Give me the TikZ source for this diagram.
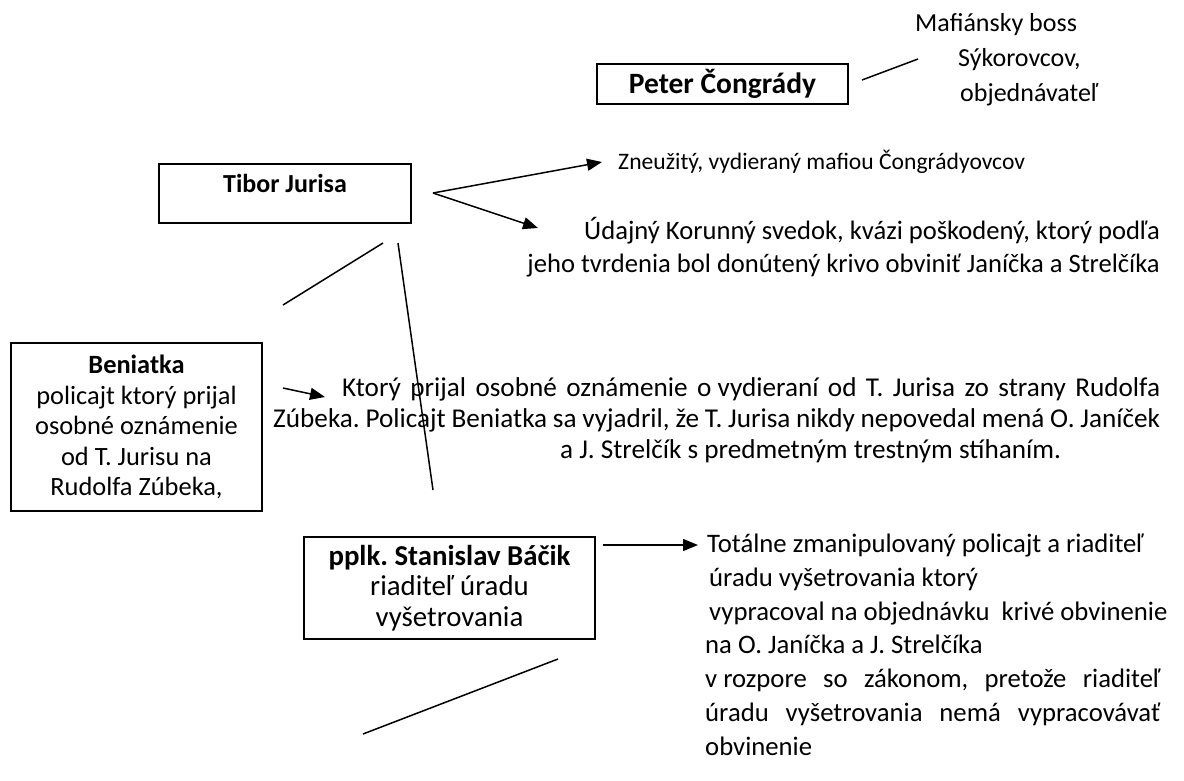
\documentclass[tikz,border=0pt]{standalone}
\usepackage{fontspec}
\setmainfont{Carlito}
\usepackage{tikz}
\usetikzlibrary{positioning}
\usetikzlibrary{calc}
\usetikzlibrary{arrows.meta}
\frenchspacing

\begin{document}
\begin{tikzpicture}[x=1pt, y=-1pt,
	box/.style = {draw, line width=2pt, inner sep=0pt, align=center},
	txt/.style = {inner sep=0pt},
	arr/.style = {-{Triangle[length=15pt,width=12pt]}, line width=1.5pt},
	ln/.style = {line width=1.5pt}]
	\useasboundingbox (0,0) rectangle (1184,780);

	% osoby
	\node[box, minimum width=251, minimum height=40, font=\fontsize{29.5}{34}\selectfont] (congrady) at (722.5,84) {\textbf{Peter Čongrády}};
	\node[box, minimum width=252, text height=28pt, text depth=31pt, anchor=north, font=\fontsize{26}{31}\selectfont] (jurisa) at (285,163) {\textbf{Tibor Jurisa}};
	\node[box, minimum width=251, minimum height=168, font=\fontsize{26.4}{30.5}\selectfont] (beniatka) at (136.5,427)
		{\textbf{Beniatka}\\ policajt ktorý prijal\\ osobné oznámenie\\ od T. Jurisu na\\ Rudolfa Zúbeka,};
	\node[box, minimum width=291, minimum height=102, font=\fontsize{28.8}{30.5}\selectfont] (bacik) at (449.5,588)
		{\textbf{pplk. Stanislav Báčik}\\ riaditeľ úradu\\ vyšetrovania};

	% popisy
	\node[txt, align=left, anchor=base west, font=\fontsize{26}{35}\selectfont] (mafia) at (915,101)
		{Mafiánsky boss\\ \hspace{43pt}Sýkorovcov,\\ \hspace{45pt}objednávateľ};
	\node[txt, anchor=base west, font=\fontsize{23.6}{30}\selectfont] (zneuzity) at (618,169) {Zneužitý, vydieraný mafiou Čongrádyovcov};
	\node[txt, align=right, anchor=base east, font=\fontsize{26.6}{33}\selectfont] (svedok) at (1160,272)
		{Údajný Korunný svedok, kvázi poškodený, ktorý podľa\\ jeho tvrdenia bol donútený krivo obviniť Janíčka a Strelčíka};
	\node[txt, align=left, anchor=base west, font=\fontsize{27.2}{31}\selectfont] (oznamenie) at (273,458)
		{\hspace{69pt}\makebox[818pt][s]{Ktorý prijal osobné oznámenie \mbox{o vydieraní} od T. Jurisa zo strany Rudolfa}\\
		\makebox[887pt][s]{Zúbeka. Policajt Beniatka sa vyjadril, že T. Jurisa nikdy nepovedal mená O. Janíček}\\
		\hspace{287pt}a J. Strelčík s predmetným trestným stíhaním.};
	\node[txt, align=left, anchor=base west, font=\fontsize{26.7}{33.7}\selectfont] (totalne) at (705,755)
		{\hspace{2pt}Totálne zmanipulovaný policajt a riaditeľ\\
		\hspace{4pt}úradu vyšetrovania ktorý\\
		\hspace{4pt}vypracoval na objednávku\ \ krivé obvinenie\\
		na O. Janíčka a J. Strelčíka\\
		\makebox[455pt][s]{\mbox{v rozpore} so zákonom, pretože riaditeľ}\\
		\makebox[455pt][s]{úradu vyšetrovania nemá vypracovávať}\\
		obvinenie};

	% spojnice
	\coordinate (c1) at (862,80);
	\coordinate (c2) at (918,59);
	\coordinate (j0) at (433,193);
	\coordinate (j1) at (602,162);
	\coordinate (j2) at (538,228);
	\coordinate (j3) at (383,243);
	\coordinate (j4) at (283,305);
	\coordinate (j5) at (398,243);
	\coordinate (j6) at (433,490);
	\coordinate (b1) at (283,388);
	\coordinate (b2) at (325,397);
	\coordinate (s1) at (603,545);
	\coordinate (s2) at (698,545);
	\coordinate (s3) at (558,659);
	\coordinate (s4) at (363,734);

	\draw[ln] (c1) -- (c2);
	\draw[arr] (j0) -- (j1);
	\draw[arr] (j0) -- (j2);
	\draw[ln] (j3) -- (j4);
	\draw[ln] (j5) -- (j6);
	\draw[arr] (b1) -- (b2);
	\draw[arr] (s1) -- (s2);
	\draw[ln] (s3) -- (s4);
\end{tikzpicture}
\end{document}
